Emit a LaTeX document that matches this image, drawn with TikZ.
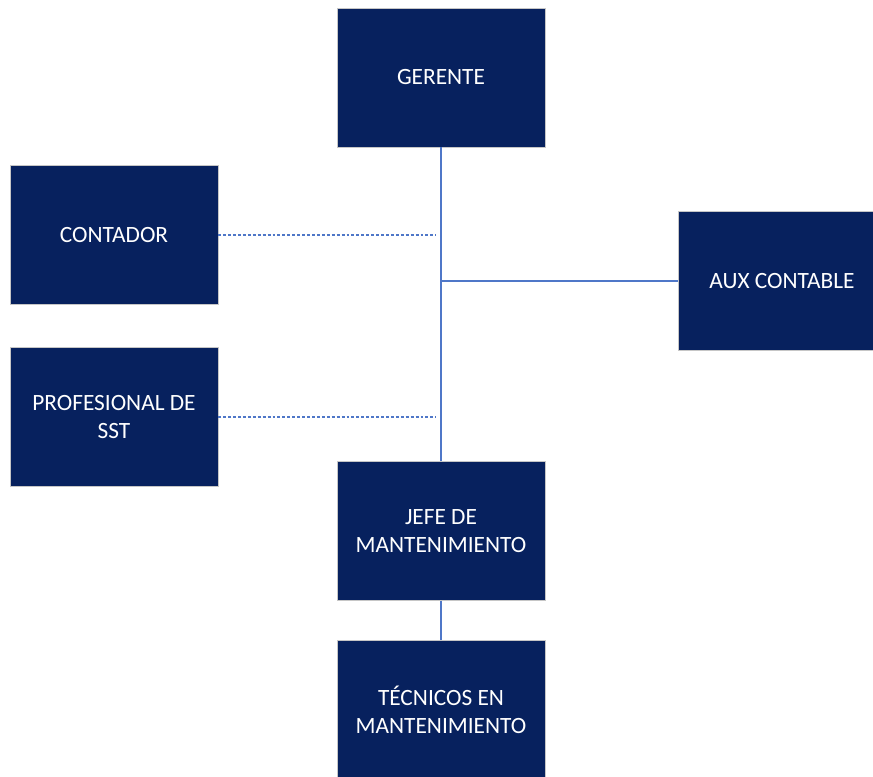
\documentclass[tikz,border=0pt]{standalone}
\usepackage{fontspec}
\setmainfont{Carlito}
\usepackage{xcolor}
\usetikzlibrary{positioning,calc}
\definecolor{navy}{RGB}{7,33,94}
\definecolor{edgeblue}{RGB}{79,119,200}
\tikzset{%
	cargo/.style    = {draw=gray!45, fill=navy, text=white, rectangle, align=center, minimum width=156pt, minimum height=104pt, font=\fontsize{17.5}{21}\selectfont}, % Puesto
	link/.style     = {draw=edgeblue, line width=1.1pt}, % Linea de mando
	staff/.style    = {draw=edgeblue, line width=1.3pt, dash pattern=on 2.2pt off 1.5pt}, % Asesoria
}

\begin{document}
\begin{tikzpicture}[x=0.75pt,y=-0.75pt]
	\useasboundingbox (0,0) rectangle (873,776);
	\node [cargo] (gerente) at (441,77.5) {GERENTE};
	\node [cargo] (contador) at (114,235) {CONTADOR};
	\node [cargo] (prof) [below=32pt of contador] {PROFESIONAL DE\\SST};
	\node [cargo] (aux) at (782,281) {AUX CONTABLE};
	\node [cargo] (jefe) at (441,531) {JEFE DE\\MANTENIMIENTO};
	\node [cargo] (tec) [below=29.5pt of jefe] {TÉCNICOS EN\\MANTENIMIENTO};
	
	\coordinate (eje) at (gerente.south |- aux.west);
	\coordinate (c1) at ($(gerente.south |- contador.east)+(-5,0)$);
	\coordinate (c2) at ($(gerente.south |- prof.east)+(-5,0)$);
	
	\draw[link] (gerente) -- (jefe);
	\draw[link] (eje) -- (aux);
	\draw[link] (jefe) -- (tec);
	\draw[staff] (contador) -- (c1);
	\draw[staff] (prof) -- (c2);
	
\end{tikzpicture}
\end{document}
